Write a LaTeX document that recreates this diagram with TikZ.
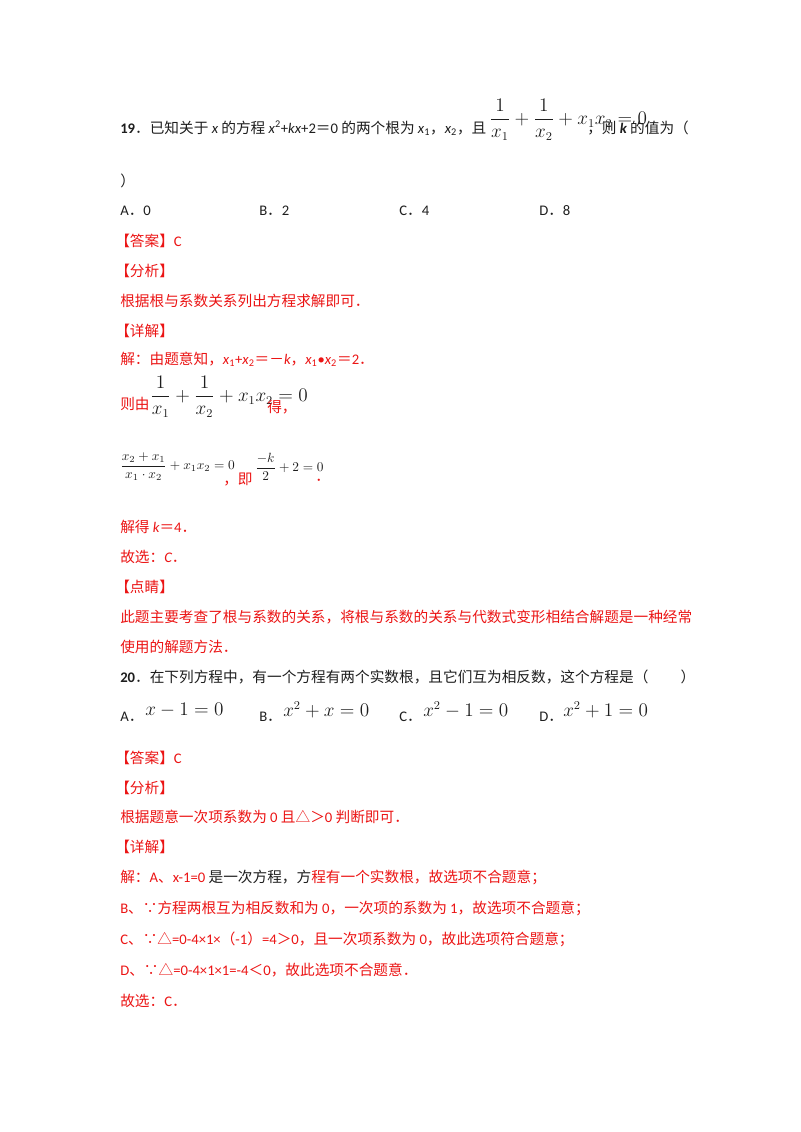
\documentclass[tikz,border=0pt]{standalone}
\usepackage{amsmath}
\usepackage{fontspec}
\setmainfont{Noto Sans CJK SC}
\newfontfamily\lat{Carlito}
\definecolor{rd}{RGB}{235,20,20}
\definecolor{tx}{RGB}{30,30,30}
\tikzset{ln/.style={anchor=west,inner sep=0pt,font=\fontsize{11}{13}\selectfont,text=tx},
 rl/.style={ln,text=rd},
 mth/.style={anchor=west,inner sep=0pt,font=\fontsize{13.5}{15}\selectfont,text=tx}}
\newcommand{\mx}[1]{{\lat\itshape #1}}
\newcommand{\lt}[1]{{\lat #1}}
\begin{document}
\begin{tikzpicture}[x=0.75pt,y=-0.75pt]
\useasboundingbox (0,0) rectangle (800,1132);
\node[ln] (q19) at (120,128) {\lt{\textbf{19}}．已知关于 \mx{x} 的方程 \mx{x}\lt{\textsuperscript{2}+}\mx{kx}\lt{+2}＝\lt{0} 的两个根为 \mx{x}\lt{\textsubscript{1}}，\mx{x}\lt{\textsubscript{2}}，且};
\node[mth] (f19) at (q19.east) [xshift=2pt,yshift=6pt] {$\dfrac{1}{x_1}+\dfrac{1}{x_2}+x_1x_2=0$};
\node[ln] (q19b) at (587,128) {，则 \mx{\bfseries k} 的值为（};
\node[ln] (p19) at (120,181) {）};
\node[ln] (a19) at (120,211) {\lt{A}．\lt{0}};
\node[ln] (b19) at (259,211) {\lt{B}．\lt{2}};
\node[ln] (c19) at (399,211) {\lt{C}．\lt{4}};
\node[ln] (d19) at (539,211) {\lt{D}．\lt{8}};
\node[rl] (ans1) at (115,241) {【答案】\lt{C}};
\node[rl] (fx1) at (115,271) {【分析】};
\node[rl] (fxt1) at (120,301) {根据根与系数关系列出方程求解即可．};
\node[rl] (xj1) at (115,331) {【详解】};
\node[rl] (s1) at (120,359) {解：由题意知，\mx{x}\lt{\textsubscript{1}+}\mx{x}\lt{\textsubscript{2}}＝－\mx{k}，\mx{x}\lt{\textsubscript{1}•}\mx{x}\lt{\textsubscript{2}}＝\lt{2}．};
\node[rl] (s2a) at (120,404) {则由};
\node[mth] (s2f) at (150,397) {$\dfrac{1}{x_1}+\dfrac{1}{x_2}+x_1x_2=0$};
\node[rl] (s2b) at (267,407) {得，};
\node[ln,font=\fontsize{10}{12}\selectfont] (s3f) at (120,467) {$\dfrac{x_2+x_1}{x_1\cdot x_2}+x_1x_2=0$};
\node[rl] (s3a) at (223,480) {，即};
\node[ln,font=\fontsize{10}{12}\selectfont] (s3g) at (255,467) {$\dfrac{-k}{2}+2=0$};
\node[rl] (s3b) at (315,480) {．};
\node[rl] (s4) at (120,527) {解得 \mx{k}＝\lt{4}．};
\node[rl] (s5) at (120,557) {故选：\mx{C}．};
\node[rl] (dj1) at (115,587) {【点睛】};
\node[rl] (dj1a) at (120,617) {此题主要考查了根与系数的关系，将根与系数的关系与代数式变形相结合解题是一种经常};
\node[rl] (dj1b) at (120,647) {使用的解题方法．};
\node[ln] (q20) at (120,677) {\lt{\textbf{20}}．在下列方程中，有一个方程有两个实数根，且它们互为相反数，这个方程是（\hspace{2.2em}）};
\node[ln] (a20) at (120,717) {\lt{A}．}; \node[mth] (a20f) at (145,710) {$x-1=0$};
\node[ln] (b20) at (259,717) {\lt{B}．}; \node[mth] (b20f) at (283,710) {$x^2+x=0$};
\node[ln] (c20) at (399,717) {\lt{C}．}; \node[mth] (c20f) at (423,710) {$x^2-1=0$};
\node[ln] (d20) at (539,717) {\lt{D}．}; \node[mth] (d20f) at (563,710) {$x^2+1=0$};
\node[rl] (ans2) at (115,758) {【答案】\lt{C}};
\node[rl] (fx2) at (115,788) {【分析】};
\node[rl] (fxt2) at (120,817) {根据题意一次项系数为 \lt{0} 且△＞\lt{0} 判断即可．};
\node[rl] (xj2) at (115,847) {【详解】};
\node[rl] (t1) at (120,877) {解：\lt{A}、\lt{x-1=0} \textcolor{tx}{是一次方程，方}程有一个实数根，故选项不合题意；};
\node[rl] (t2) at (120,908) {\lt{B}、∵方程两根互为相反数和为 \lt{0}，一次项的系数为 \lt{1}，故选项不合题意；};
\node[rl] (t3) at (120,939) {\lt{C}、∵△\lt{=0-4×1×}（\lt{-1}）\lt{=4}＞\lt{0}，且一次项系数为 \lt{0}，故此选项符合题意；};
\node[rl] (t4) at (120,970) {\lt{D}、∵△\lt{=0-4×1×1=-4}＜\lt{0}，故此选项不合题意．};
\node[rl] (t5) at (120,1001) {故选：\lt{C}．};
\end{tikzpicture}
\end{document}
